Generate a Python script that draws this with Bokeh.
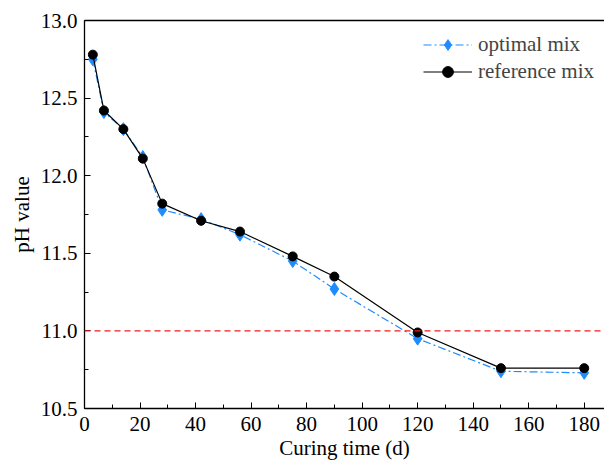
from bokeh.plotting import figure
from bokeh.models import (SingleIntervalTicker, LinearAxis, FixedTicker, Span,
                          Legend, LegendItem, NumeralTickFormatter, Range1d)
from bokeh.embed import file_html
from bokeh.resources import INLINE

days = [3, 7, 14, 21, 28, 42, 56, 75, 90, 120, 150, 180]
optimal_mix = [12.75, 12.41, 12.30, 12.12, 11.78, 11.72, 11.62, 11.45, 11.27, 10.95, 10.74, 10.73]
reference_mix = [12.78, 12.42, 12.30, 12.11, 11.82, 11.71, 11.64, 11.48, 11.35, 10.99, 10.76, 10.76]
threshold = 11.0
x_label = "Curing time (d)"
y_label = "pH value"
series_names = ["optimal mix", "reference mix"]

FONT = "Liberation Serif"

p = figure(width=604, height=462, output_backend="svg", toolbar_location=None,
           x_range=Range1d(0, 187.3), y_range=Range1d(10.5, 13.0),
           min_border_left=84, min_border_right=0, min_border_top=20, min_border_bottom=54)
p.outline_line_color = None
p.grid.visible = False
p.background_fill_color = "white"
p.border_fill_color = "white"

p.xaxis.ticker = SingleIntervalTicker(interval=20, num_minor_ticks=2)
p.yaxis.ticker = SingleIntervalTicker(interval=0.5, num_minor_ticks=2)
p.yaxis.formatter = NumeralTickFormatter(format="0.0")
for ax in (p.xaxis[0], p.yaxis[0]):
    ax.major_tick_in = 6
    ax.major_tick_out = 0
    ax.minor_tick_in = 4
    ax.minor_tick_out = 0
    ax.axis_line_color = "black"
    ax.axis_line_width = 1.3
    ax.major_tick_line_color = "black"
    ax.minor_tick_line_color = "black"
    ax.major_label_text_font = FONT
    ax.major_label_text_font_size = "21px"
    ax.major_label_text_color = "black"
    ax.axis_label_text_font = FONT
    ax.axis_label_text_font_size = "21px"
    ax.axis_label_text_font_style = "normal"
    ax.axis_label_text_color = "black"
p.xaxis.axis_label = x_label
p.yaxis.axis_label = y_label
p.xaxis.major_label_standoff = 8
p.xaxis.axis_label_standoff = 2
p.yaxis.major_label_standoff = 7
p.yaxis.axis_label_standoff = 4

top = LinearAxis(ticker=FixedTicker(ticks=[]), major_tick_in=0, major_tick_out=0,
                 minor_tick_in=0, minor_tick_out=0, major_label_text_font_size="0px",
                 axis_line_color="black", axis_line_width=1.3)
p.add_layout(top, "above")

span = Span(location=threshold, dimension="width", line_color="#F01E1E",
            line_dash="6 4", line_width=1.2)
p.add_layout(span)

l1 = p.line(days, optimal_mix, line_color="#1E8CFF", line_width=1.2, line_dash="8 3 2 3")
m1 = p.scatter(days, optimal_mix, marker="diamond", size=13, fill_color="#1E8CFF",
               line_color="#1E8CFF")
l2 = p.line(days, reference_mix, line_color="black", line_width=1.2)
m2 = p.scatter(days, reference_mix, marker="circle", size=9, fill_color="black",
               line_color="black")

legend = Legend(items=[LegendItem(label=series_names[0], renderers=[l1, m1]),
                       LegendItem(label=series_names[1], renderers=[l2, m2])],
                location=(339, 323), border_line_color=None, background_fill_alpha=0,
                label_text_font=FONT, label_text_font_size="21px",
                glyph_width=49, glyph_height=27, label_height=27, spacing=0,
                label_standoff=6, padding=4, margin=0)
p.add_layout(legend)

open("out.html", "w").write(file_html(p, INLINE))
